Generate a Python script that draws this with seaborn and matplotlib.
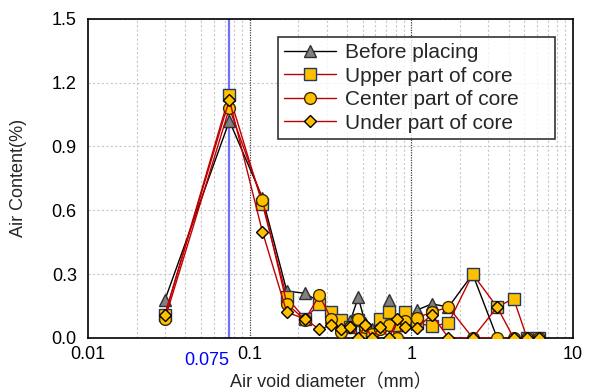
import matplotlib
matplotlib.use("Agg")
import matplotlib.pyplot as plt
import seaborn as sns
import pandas as pd
from matplotlib.ticker import LogLocator, NullFormatter

# void diameter bins (mm)
diameter = [0.03, 0.075, 0.12, 0.17, 0.22, 0.27, 0.32, 0.37, 0.42, 0.47, 0.52, 0.57,
            0.64, 0.73, 0.82, 0.91, 1.08, 1.34, 1.7, 2.4, 3.4, 4.3, 5.2, 6.2]

before = [0.18, 1.02, 0.66, 0.22, 0.21, 0.17, 0.10, 0.06, 0.08, 0.19, 0.07, 0.04,
          0.06, 0.18, 0.06, 0.075, 0.13, 0.16, 0.145, 0.30, 0.0, 0.0, 0.0, 0.0]
upper = [0.11, 1.14, 0.63, 0.19, 0.09, 0.16, 0.12, 0.085, 0.05, 0.085, 0.03, 0.0,
         0.09, 0.12, 0.06, 0.12, 0.07, 0.055, 0.07, 0.30, 0.145, 0.185, 0.0, 0.0]
center = [0.09, 1.08, 0.65, 0.16, 0.085, 0.20, 0.09, 0.03, 0.05, 0.09, 0.05, 0.02,
          0.04, 0.06, 0.0, 0.08, 0.095, 0.12, 0.145, 0.0, 0.0, 0.0, 0.0, 0.0]
under = [0.11, 1.12, 0.50, 0.12, 0.09, 0.04, 0.06, 0.04, 0.05, 0.0, 0.06, 0.0,
         0.05, 0.0, 0.09, 0.05, 0.045, 0.11, 0.0, 0.0, 0.145, 0.0, 0.0, 0.0]

labels = ["Before placing", "Upper part of core", "Center part of core", "Under part of core"]
markers = ["^", "s", "o", "D"]
line_colors = ["#000000", "#C00000", "#C00000", "#C00000"]
face_colors = ["#808080", "#FFC000", "#FFC000", "#FFC000"]
edge_colors = ["#303030", "#1F3864", "#3A2A00", "#000000"]
msizes = [8, 8, 8.5, 6.5]

sns.set_style("white")
plt.rcParams["font.family"] = ["Liberation Sans", "Noto Sans CJK JP", "DejaVu Sans"]

fig = plt.figure(figsize=(5.9, 3.92), dpi=100)
ax = fig.add_axes([0.149, 0.138, 0.822, 0.814])

ax.set_xscale("log")
ax.set_xlim(0.01, 10)
ax.set_ylim(0, 1.5)

# grid
ax.xaxis.set_minor_locator(LogLocator(base=10, subs=range(2, 10)))
ax.grid(which="minor", axis="x", color="#C8C8C8", linestyle=(0, (2, 2)), linewidth=0.8)
ax.grid(which="major", axis="y", color="#C8C8C8", linestyle=(0, (2, 2)), linewidth=0.8)
for xv in [0.1, 1]:
    ax.axvline(xv, color="#404040", linestyle=(0, (1, 1)), linewidth=0.9, zorder=1)
ax.axvline(0.075, color="#7070FF", linewidth=1.6, zorder=1)

df = pd.DataFrame({"d": diameter, labels[0]: before, labels[1]: upper,
                   labels[2]: center, labels[3]: under})
for i, lab in enumerate(labels):
    sns.lineplot(data=df, x="d", y=lab, ax=ax, sort=False, color=line_colors[i],
                 linewidth=1.0, marker=markers[i], markersize=msizes[i],
                 markerfacecolor=face_colors[i], markeredgecolor=edge_colors[i],
                 markeredgewidth=1.0, label=lab, zorder=3 + i)

ax.set_yticks([0.0, 0.3, 0.6, 0.9, 1.2, 1.5])
ax.set_yticklabels(["0.0", "0.3", "0.6", "0.9", "1.2", "1.5"])
ax.set_xticks([0.01, 0.1, 1, 10])
ax.set_xticklabels(["0.01", "0.1", "1", "10"])
ax.xaxis.set_minor_formatter(NullFormatter())
ax.tick_params(axis="both", which="both", direction="in", labelsize=13, colors="black")
ax.tick_params(axis="x", which="major", length=6, pad=6)
ax.tick_params(axis="x", which="minor", length=3)
ax.tick_params(axis="y", which="major", length=0, pad=8)
ax.text(0.075, -0.045, "0.075", color="#0000FF", fontsize=13,
        transform=ax.get_xaxis_transform(), ha="right", va="top")

for s in ax.spines.values():
    s.set_color("black")
    s.set_linewidth(1.2)

ax.set_xlabel("Air void diameter（mm）", fontsize=13, labelpad=8)
ax.set_ylabel("Air Content(%)", fontsize=13, labelpad=18)

leg = ax.legend(loc="upper left", bbox_to_anchor=(0.392, 0.627, 0.571, 0.317),
                mode="expand", fontsize=15,
                frameon=True, fancybox=False, edgecolor="black", handlelength=2.5,
                borderpad=0.3, labelspacing=0.22, handletextpad=0.4,
                borderaxespad=0)
leg.get_frame().set_linewidth(1.2)

fig.savefig("out.png", dpi=100)
